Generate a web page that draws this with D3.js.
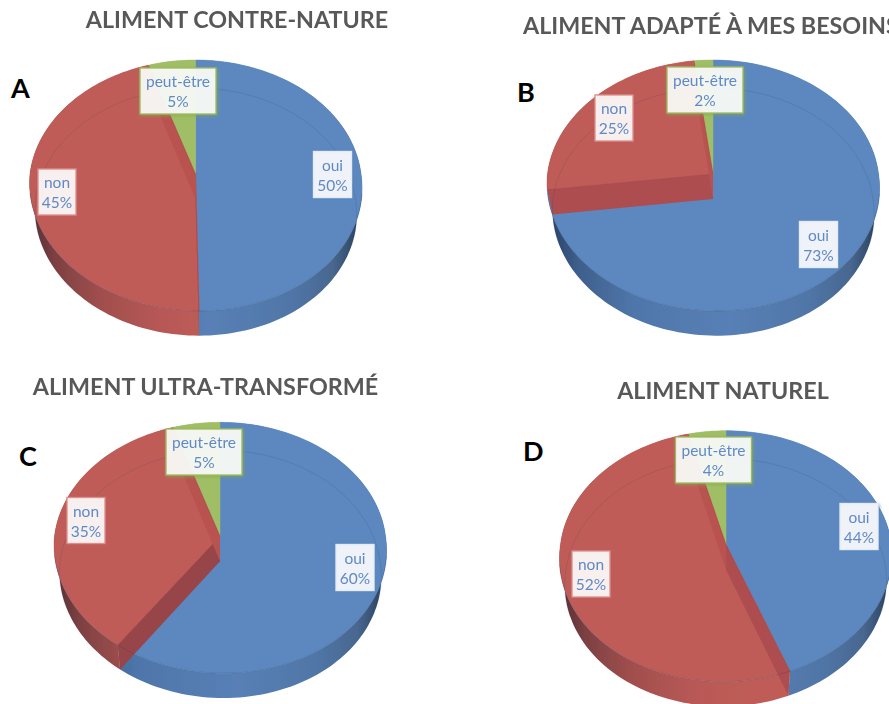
<!DOCTYPE html>
<html><head><meta charset="utf-8">
<script src="https://cdn.jsdelivr.net/npm/d3@7"></script>
<style>html,body{margin:0;padding:0;background:#fff;overflow:hidden}svg{display:block}text{font-family:Lato,"Open Sans",sans-serif}</style>
</head><body><svg id="c" width="889" height="704"></svg>
<script>
const categories = ["oui", "non", "peut-être"];
const panelLetters = ["A", "B", "C", "D"];
const panelTitles = ["ALIMENT CONTRE-NATURE", "ALIMENT ADAPTÉ À MES BESOINS", "ALIMENT ULTRA-TRANSFORMÉ", "ALIMENT NATUREL"];
const valuesA = [50, 45, 5];
const valuesB = [73, 25, 2];
const valuesC = [60, 35, 5];
const valuesD = [44, 52, 4];
const panelValues = [valuesA, valuesB, valuesC, valuesD];

// layout
const pieCentres = [[195.5, 174], [713, 174], [220, 536.3], [726, 544.7]];
const frontLean = [3.5, 3.5, 3.5, -3];
const titleAnchors = [[237, 28], [523, 34, "start"], [205.5, 395], [723, 399]];
const letterAnchors = [[11, 98], [517, 102], [19, 466], [523, 461]];
const labelCentres = [
  [[332.5, 174.5], [57, 192], [178, 91]],
  [[818.5, 244.5], [614, 118], [705, 90]],
  [[355, 567.5], [86, 520.5], [204, 452]],
  [[859, 526.5], [591, 574], [713.5, 460]]
];
const colour = d3.scaleOrdinal(categories, ["#5b88bf", "#c05c58", "#a0be65"]);
const border = d3.scaleOrdinal(categories, ["#e3ecf6", "#dc8f8c", "#9dbb61"]);
const shadow = d3.scaleOrdinal(categories, ["#5a87bd", "#bf5c58", "#86a84a"]);

const svg = d3.select("#c");
const defs = svg.append("defs");
categories.forEach((c, i) => {
  const f = defs.append("filter").attr("id", "sh" + i).attr("x", "-30%").attr("y", "-30%").attr("width", "160%").attr("height", "160%");
  f.append("feDropShadow").attr("dx", 1).attr("dy", 1.2).attr("stdDeviation", 1.8).attr("flood-color", shadow(c)).attr("flood-opacity", .75);
});
defs.append("filter").attr("id", "soft").append("feGaussianBlur").attr("stdDeviation", .45);
defs.append("filter").attr("id", "tsh").append("feGaussianBlur").attr("stdDeviation", .4);

const wallStops = {
  oui: [[0, "#2c466c"], [.08, "#3e5f8c"], [.25, "#4f76aa"], [.55, "#5880b6"], [.8, "#5076a7"], [.93, "#48678f"], [1, "#2e4764"]],
  non: [[0, "#5d3337"], [.06, "#7d4042"], [.2, "#a04e4d"], [.4, "#b85956"], [.6, "#c05c58"], [1, "#c05c58"]],
  "peut-être": [[0, "#a0be65"], [1, "#a0be65"]]
};

const pieGen = d3.pie().sort(null).startAngle(0).endAngle(2 * Math.PI);

function project(cx, cy, rx, b, k, lean, th) {
  const u = Math.sin(th), v = Math.cos(th), s = 1 / (1 + k * v);
  return [cx + rx * u * s + (v < 0 ? -v * lean : 0), cy - b * v * s];
}
const samples = (a, b) => { const n = Math.max(2, Math.ceil((b - a) / .03)); return d3.range(n + 1).map(i => a + (b - a) * i / n); };
const line = d3.line();

panelValues.forEach((vals, p) => {
  const [cx, cy] = pieCentres[p];
  const lean = frontLean[p];
  const topRim = th => project(cx, cy, 165.5, 124.4, .0916, lean, th);
  const botRim = th => project(cx, cy + 25, 160, 122.5, .1038, lean, th);
  const g = svg.append("g").attr("filter", "url(#soft)");
  const arcs = pieGen(vals);
  categories.forEach((c, i) => {
    const gr = defs.append("linearGradient").attr("id", `w${p}${i}`).attr("gradientUnits", "userSpaceOnUse")
      .attr("x1", cx - 160).attr("x2", cx + 160).attr("y1", 0).attr("y2", 0);
    wallStops[c].forEach(s => gr.append("stop").attr("offset", s[0]).attr("stop-color", s[1]));
  });
  // outer wall
  arcs.forEach((a, i) => {
    const th = samples(a.startAngle, a.endAngle);
    const pts = th.map(topRim).concat(th.slice().reverse().map(botRim));
    g.append("path").attr("d", line(pts) + "Z").attr("fill", `url(#w${p}${i})`);
  });
  // top slices
  arcs.forEach((a, i) => {
    const pts = [[cx, cy]].concat(samples(a.startAngle, a.endAngle).map(topRim));
    g.append("path").attr("d", line(pts) + "Z").attr("fill", colour(categories[i])).attr("stroke", colour(categories[i])).attr("stroke-width", .5);
  });
  // cut faces of the red slice
  const red = arcs[1];
  [[red.startAngle, p === 2 ? "#98454a" : "#ad4d4f"], [red.endAngle, "#b9524f"]].forEach(([t, col]) => {
    const pts = [[cx, cy], topRim(t), botRim(t), [cx, cy + 25]];
    g.append("path").attr("d", line(pts) + "Z").attr("fill", col);
    g.append("path").attr("d", line([pts[0], pts[1]])).attr("stroke", "#a8474a").attr("stroke-width", .6).attr("fill", "none");
  });
  // faint arcs: back of the lower rim, front of the upper rim
  const backArc = samples(-Math.PI * .62, Math.PI * .62).map(botRim);
  g.append("path").attr("d", line(backArc)).attr("fill", "none").attr("stroke", "#2d3f66").attr("stroke-opacity", .2).attr("stroke-width", .8);
  const frontArc = samples(Math.PI * .55, Math.PI * 1.45).map(topRim);
  g.append("path").attr("d", line(frontArc)).attr("fill", "none").attr("stroke", "#2d3f66").attr("stroke-opacity", .3).attr("stroke-width", .8);
});

// titles and letters
panelTitles.forEach((t, p) => {
  const [x, y, anchor] = titleAnchors[p];
  svg.append("text").attr("x", x).attr("y", y).attr("text-anchor", anchor || "middle")
    .attr("font-size", 23.3).attr("font-weight", 700).attr("fill", "#595959").attr("filter", "url(#tsh)").text(t);
  const [lx, ly] = letterAnchors[p];
  svg.append("text").attr("x", lx).attr("y", ly).attr("font-size", 27).attr("font-weight", 700).attr("fill", "#000").text(panelLetters[p]);
});

// data labels
panelValues.forEach((vals, p) => {
  categories.forEach((c, i) => {
    const [mx, my] = labelCentres[p][i];
    const w = c === "peut-être" ? 76 : 38;
    const g = svg.append("g");
    g.append("rect").attr("x", mx - w / 2).attr("y", my - 23).attr("width", w).attr("height", 46)
      .attr("fill", "#fff").attr("fill-opacity", .87).attr("stroke", border(c)).attr("stroke-width", 1.3)
      .attr("filter", `url(#sh${i})`);
    const tx = g.append("text").attr("text-anchor", "middle").attr("font-size", 15.5).attr("fill", "#5f8ac6").attr("filter", "url(#tsh)");
    tx.append("tspan").attr("x", mx).attr("y", my - 4).text(c);
    tx.append("tspan").attr("x", mx).attr("y", my + 16).text(vals[i] + "%");
  });
});
</script></body></html>
